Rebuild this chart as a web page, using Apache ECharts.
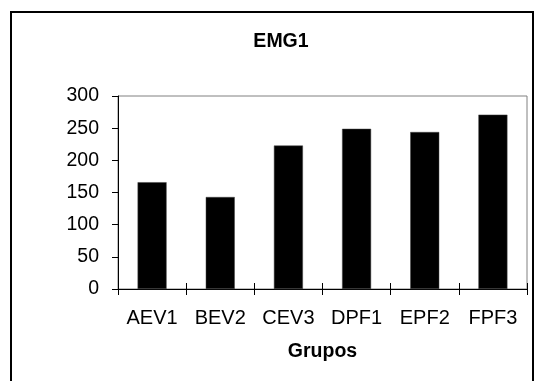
<!DOCTYPE html>
<html><head><meta charset="utf-8">
<script src="https://cdn.jsdelivr.net/npm/echarts@6/dist/echarts.min.js"></script>
<style>html,body{margin:0;padding:0;background:#fff}#c{width:535px;height:381px}</style>
</head><body><div id="c"></div>
<script>
const categories = ['AEV1','BEV2','CEV3','DPF1','EPF2','FPF3'];
const values = [166, 143, 223, 249, 244, 271];
const yTicks = [0, 50, 100, 150, 200, 250, 300];
const titleText = 'EMG1';
const xName = 'Grupos';

const FONT = "'Liberation Sans', Arial, sans-serif";
const chart = echarts.init(document.getElementById('c'), null, {renderer:'canvas'});
chart.setOption({
  animation: false,
  backgroundColor: '#fff',
  title: {text: titleText, left: 276, textAlign:'center', top: 27,
    textStyle: {fontFamily: FONT, fontWeight: 'bold', fontSize: 19.5, color: '#000'}},
  graphic: [{type:'rect', shape:{x:11, y:12, width:522, height:400},
    style:{fill:'none', stroke:'#000', lineWidth:2}, z:-1}],
  grid: {left:118, top:96, right:8, bottom:92, show:true, borderColor:'#808080', borderWidth:1, backgroundColor:'transparent'},
  xAxis: [{
    type:'category', data: categories, boundaryGap:true,
    axisLine:{lineStyle:{color:'#000', width:1}},
    axisTick:{show:true, length:6, alignWithLabel:false, lineStyle:{color:'#000'}},
    axisLabel:{fontFamily:FONT, fontSize:20, color:'#000', margin:19, interval:0},
    name: xName, nameLocation:'middle', nameGap:53,
    nameTextStyle:{fontFamily:FONT, fontSize:19.5, fontWeight:'bold', color:'#000'}
  },{
    type:'category', data: categories, position:'bottom', boundaryGap:true,
    axisLine:{show:false},
    axisTick:{show:true, inside:true, length:6, lineStyle:{color:'#000'}},
    axisLabel:{show:false}
  }],
  yAxis: {
    type:'value', min: yTicks[0], max: yTicks[yTicks.length-1], interval: 50,
    axisLine:{show:true, lineStyle:{color:'#000', width:1}},
    axisTick:{show:true, length:6, lineStyle:{color:'#000'}},
    axisLabel:{fontFamily:FONT, fontSize:19.5, color:'#000', margin:19},
    splitLine:{show:false}
  },
  series: [{type:'bar', data: values, barWidth: 29, xAxisIndex:0,
    itemStyle:{color:'#000', borderColor:'#444', borderWidth:0.5}}]
});
</script></body></html>
